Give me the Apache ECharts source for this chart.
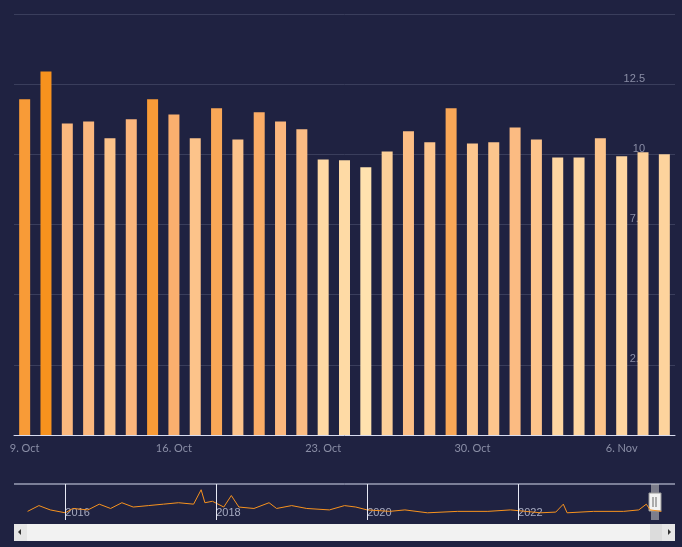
<!DOCTYPE html>
<html><head><meta charset="utf-8">
<script src="https://cdn.jsdelivr.net/npm/echarts@6/dist/echarts.min.js"></script>
<style>html,body{margin:0;background:#1f2241}#c{width:682px;height:547px}</style></head>
<body><div id="c"></div>
<script>
const categories=['9. Oct','10. Oct','11. Oct','12. Oct','13. Oct','14. Oct','15. Oct','16. Oct','17. Oct','18. Oct','19. Oct','20. Oct','21. Oct','22. Oct','23. Oct','24. Oct','25. Oct','26. Oct','27. Oct','28. Oct','29. Oct','30. Oct','31. Oct','1. Nov','2. Nov','3. Nov','4. Nov','5. Nov','6. Nov','7. Nov','8. Nov'];
const values=[11.96,12.95,11.1,11.17,10.57,11.25,11.96,11.42,10.57,11.64,10.53,11.5,11.17,10.89,9.82,9.79,9.54,10.1,10.82,10.43,11.64,10.39,10.43,10.96,10.53,9.89,9.89,10.57,9.93,10.07,10.0];
const navYears=[2015.5,2015.65,2015.8,2016.0,2016.1,2016.3,2016.45,2016.6,2016.75,2016.9,2017.1,2017.3,2017.5,2017.7,2017.8,2017.85,2017.95,2018.1,2018.2,2018.3,2018.5,2018.7,2018.8,2019.0,2019.2,2019.5,2019.7,2019.85,2020.0,2020.3,2020.5,2020.8,2021.2,2021.6,2021.9,2022.1,2022.3,2022.5,2022.6,2022.65,2023.0,2023.4,2023.6,2023.7,2023.75,2023.9];
const navValues=[11,15,12,10,13,12,16,13,17,14,15,16,17,16,26,17,18,14,22,14,13,17,13,15,13,12,15,14,12,11,12,10,11,11,12,11,10,10.5,16,10,11,11,12,16,12,11];
const yearLabels=[2016,2018,2020,2022];
const txt='#8a8ea6';
const chart=echarts.init(document.getElementById('c'));
chart.setOption({
 backgroundColor:'#1f2241',animation:false,
 visualMap:{show:false,seriesIndex:0,min:9.5,max:12.2,inRange:{color:['#ffe3b0','#fcc68e','#fbb47a','#f7921e']}},
 grid:[{left:14,right:7,top:14,bottom:112},{left:14,right:7,top:484,height:36}],
 xAxis:[{type:'category',data:categories,gridIndex:0,
   axisLine:{lineStyle:{color:'#d8dcf0'}},
   axisTick:{alignWithLabel:true,interval:(i)=>i%7===0,length:6,lineStyle:{color:'#d8dcf0'}},
   axisLabel:{interval:(i)=>i%7===0,color:txt,fontSize:11,fontFamily:'Lato',align:'center',margin:8}},
  {type:'value',gridIndex:1,min:2015.32,max:2024.08,
   axisLine:{show:false},axisTick:{show:false},splitLine:{show:false},
   axisLabel:{customValues:yearLabels,inside:true,color:'#a6aac0',fontSize:11,align:'left',margin:2,formatter:v=>String(v)}}],
 yAxis:[{type:'value',gridIndex:0,position:'right',min:0,max:15,interval:2.5,
   axisLabel:{inside:true,color:txt,fontSize:11,verticalAlign:'bottom',margin:30,align:'right',formatter:v=>v===15?'':String(v)},
   splitLine:{lineStyle:{color:'#3a3e5c'}},axisLine:{show:false},axisTick:{show:false}},
  {type:'value',gridIndex:1,min:5,max:30,show:false}],
 series:[{type:'bar',data:values,barWidth:11,xAxisIndex:0,yAxisIndex:0},
  {type:'line',xAxisIndex:1,yAxisIndex:1,data:navYears.map((y,i)=>[y,navValues[i]]),symbol:'none',
   lineStyle:{color:'#f7921e',width:1},
   markLine:{symbol:'none',silent:true,label:{show:false},lineStyle:{color:'#e6e8f4',width:1,type:'solid'},data:yearLabels.map(y=>({xAxis:y}))}}],
 graphic:[
  {type:'line',shape:{x1:14,y1:484,x2:675,y2:484},style:{stroke:'#d8dcf0',lineWidth:1}},
  {type:'rect',shape:{x:651,y:484,width:8,height:36},style:{fill:'rgba(200,200,200,0.55)'}},
  {type:'rect',shape:{x:649,y:493,width:12,height:18},style:{fill:'#f2f2f2',stroke:'#999',lineWidth:1}},
  {type:'line',shape:{x1:653,y1:497,x2:653,y2:507},style:{stroke:'#666'}},
  {type:'line',shape:{x1:656,y1:497,x2:656,y2:507},style:{stroke:'#666'}},
  {type:'rect',shape:{x:14,y:524,width:661,height:17},style:{fill:'#f2f2f2'}},
  {type:'rect',shape:{x:14,y:524,width:13,height:17},style:{fill:'#e6e6e6'}},
  {type:'rect',shape:{x:662,y:524,width:13,height:17},style:{fill:'#e6e6e6'}},
  {type:'rect',shape:{x:650,y:524,width:12,height:17},style:{fill:'#dcdcdc'}},
  {type:'polygon',shape:{points:[[18,532],[21,529],[21,535]]},style:{fill:'#333'}},
  {type:'polygon',shape:{points:[[671,532],[668,529],[668,535]]},style:{fill:'#333'}}
 ]
});
</script></body></html>
